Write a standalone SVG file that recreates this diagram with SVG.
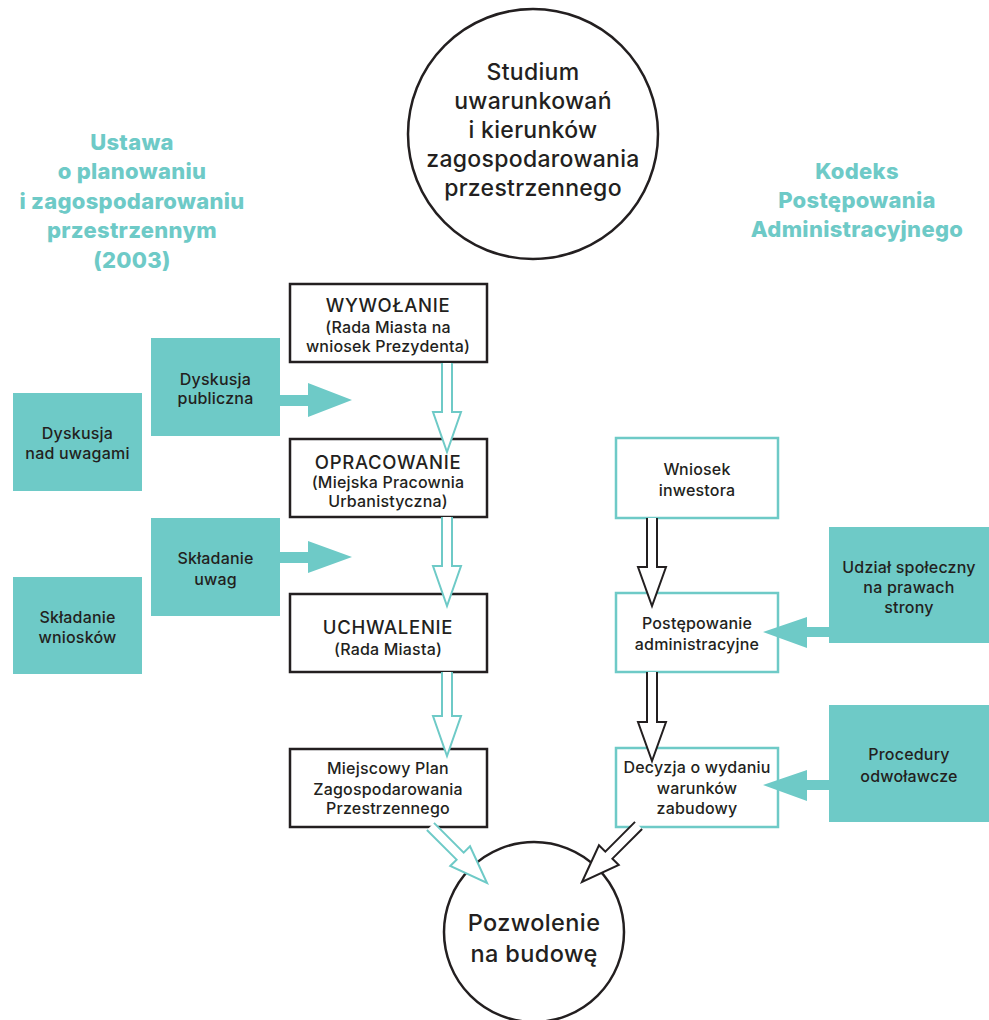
<svg xmlns="http://www.w3.org/2000/svg" width="989" height="1020" viewBox="0 0 989 1020">
<style>
text{font-family:Inter,"Liberation Sans","DejaVu Sans",sans-serif;fill:#231f20;text-anchor:middle;font-weight:500}
.title{fill:#6ecac7;font-weight:800;font-size:22px;letter-spacing:0.3px}
.big{font-size:23px;letter-spacing:0.3px}
.huge{font-size:23.5px;letter-spacing:0.4px}
.med{font-size:18.5px;letter-spacing:0.7px}
.sm{font-size:16px;letter-spacing:0.2px}
.bbox{fill:#fff;stroke:#231f20;stroke-width:2.5}
.tbox{fill:#fff;stroke:#6ecac7;stroke-width:2.5}
.fbox{fill:#6ecac7}
.circ{fill:#fff;stroke:#231f20;stroke-width:2.5}
.ta{fill:#fff;stroke:#6ecac7;stroke-width:2;stroke-linejoin:miter}
.ba{fill:#fff;stroke:#231f20;stroke-width:2;stroke-linejoin:miter}
.fa{fill:#6ecac7}
</style>
<rect width="989" height="1020" fill="#fff"/>

<g id="title-left">
<text class="title" x="132" y="150">Ustawa</text>
<text class="title" x="132" y="179">o planowaniu</text>
<text class="title" x="132" y="209">i zagospodarowaniu</text>
<text class="title" x="132" y="238">przestrzennym</text>
<text class="title" x="132" y="268">(2003)</text>
</g>
<g id="title-right">
<text class="title" x="857" y="179">Kodeks</text>
<text class="title" x="857" y="208">Postępowania</text>
<text class="title" x="857" y="237">Administracyjnego</text>
</g>

<g id="studium">
<circle class="circ" cx="533" cy="134" r="125"/>
<text class="big" x="533" y="80">Studium</text>
<text class="big" x="533" y="109">uwarunkowań</text>
<text class="big" x="533" y="138">i kierunków</text>
<text class="big" x="533" y="167">zagospodarowania</text>
<text class="big" x="533" y="196">przestrzennego</text>
</g>

<g id="wywolanie">
<rect class="bbox" x="290" y="284" width="197" height="78"/>
<text class="med" x="388" y="312">WYWOŁANIE</text>
<text class="sm" x="388" y="333">(Rada Miasta na</text>
<text class="sm" x="388" y="352">wniosek Prezydenta)</text>
</g>
<g id="opracowanie">
<rect class="bbox" x="290" y="439" width="197" height="78"/>
<text class="med" x="388" y="469">OPRACOWANIE</text>
<text class="sm" x="388" y="488">(Miejska Pracownia</text>
<text class="sm" x="388" y="507">Urbanistyczna)</text>
</g>
<g id="uchwalenie">
<rect class="bbox" x="290" y="594" width="197" height="78"/>
<text class="med" x="388" y="634">UCHWALENIE</text>
<text class="sm" x="388" y="655">(Rada Miasta)</text>
</g>
<g id="mpzp">
<rect class="bbox" x="290" y="749" width="197" height="78"/>
<text class="sm" x="388" y="774">Miejscowy Plan</text>
<text class="sm" x="388" y="795">Zagospodarowania</text>
<text class="sm" x="388" y="814">Przestrzennego</text>
</g>

<g id="dyskusja-publiczna">
<rect class="fbox" x="151" y="338" width="129" height="98"/>
<text class="sm" x="215.5" y="385">Dyskusja</text>
<text class="sm" x="215.5" y="404">publiczna</text>
</g>
<g id="dyskusja-nad-uwagami">
<rect class="fbox" x="13" y="393" width="129" height="98"/>
<text class="sm" x="77.5" y="439">Dyskusja</text>
<text class="sm" x="77.5" y="459">nad uwagami</text>
</g>
<g id="skladanie-uwag">
<rect class="fbox" x="151" y="518" width="129" height="98"/>
<text class="sm" x="215.5" y="564">Składanie</text>
<text class="sm" x="215.5" y="585">uwag</text>
</g>
<g id="skladanie-wnioskow">
<rect class="fbox" x="13" y="577" width="129" height="97"/>
<text class="sm" x="77.5" y="623">Składanie</text>
<text class="sm" x="77.5" y="643">wniosków</text>
</g>

<g id="wniosek">
<rect class="tbox" x="616" y="438" width="162" height="80"/>
<text class="sm" x="697" y="475">Wniosek</text>
<text class="sm" x="697" y="496">inwestora</text>
</g>
<g id="postepowanie">
<rect class="tbox" x="616" y="593" width="162" height="79"/>
<text class="sm" x="697" y="629">Postępowanie</text>
<text class="sm" x="697" y="650">administracyjne</text>
</g>
<g id="decyzja">
<rect class="tbox" x="616" y="748" width="162" height="79"/>
<text class="sm" x="697" y="773">Decyzja o wydaniu</text>
<text class="sm" x="697" y="794">warunków</text>
<text class="sm" x="697" y="814">zabudowy</text>
</g>
<g id="udzial">
<rect class="fbox" x="829" y="527" width="160" height="116"/>
<text class="sm" x="909" y="573">Udział społeczny</text>
<text class="sm" x="909" y="593">na prawach</text>
<text class="sm" x="909" y="613">strony</text>
</g>
<g id="procedury">
<rect class="fbox" x="829" y="705" width="160" height="117"/>
<text class="sm" x="909" y="760">Procedury</text>
<text class="sm" x="909" y="782">odwoławcze</text>
</g>

<g id="pozwolenie">
<circle class="circ" cx="534" cy="932" r="90"/>
<text class="huge" x="534" y="931">Pozwolenie</text>
<text class="huge" x="534" y="962">na budowę</text>
</g>

<g id="connectors">
<path class="ta" d="M442,363 V412 H433 L447,452 L461,412 H452 V363"/>
<path class="ta" d="M442,517 V566 H433 L447,606 L461,566 H452 V517"/>
<path class="ta" d="M442,672 V716 H433 L447,756 L461,716 H452 V672"/>
<path class="ba" d="M647,518 V567 H638 L652,606 L666,567 H657 V518"/>
<path class="ba" d="M647,672 V722 H638 L652,761 L666,722 H657 V672"/>
<path class="ta" transform="translate(487,883) rotate(-45)" d="M-5,-80 V-38 H-14 L0,0 L14,-38 H5 V-80"/>
<path class="ba" transform="translate(582,882) rotate(45)" d="M-5,-80 V-38 H-14 L0,0 L14,-38 H5 V-80"/>
<polygon class="fa" points="280,395 308,395 308,383 352,400 308,417 308,406 280,406"/>
<polygon class="fa" points="280,552 308,552 308,541 352,557 308,573 308,563 280,563"/>
<polygon class="fa" points="829,627 807,627 807,617 763,632 807,648 807,637 829,637"/>
<polygon class="fa" points="829,780 807,780 807,770 763,785 807,801 807,790 829,790"/>
</g>
</svg>
